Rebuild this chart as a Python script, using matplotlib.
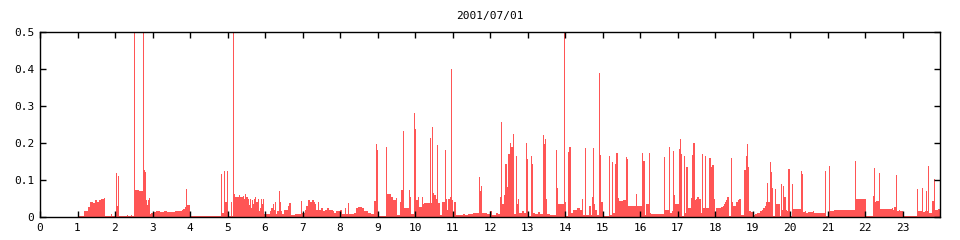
import matplotlib
matplotlib.use("Agg")
import matplotlib.pyplot as plt

# Niveau de fond : debut de chaque palier (heure) et sa valeur
base_hours = [
    0.0, 1.0, 1.17, 1.27, 1.32, 1.42, 1.47, 1.51, 1.58, 1.63, 1.70, 1.73, 1.88, 1.91,
    2.05, 2.08, 2.33, 2.35, 2.42, 2.44, 2.53, 2.62, 2.65, 2.70, 2.77, 2.79, 2.82, 2.84,
    2.87, 2.90, 2.93, 2.96, 3.0, 3.1, 3.2, 3.3, 3.38, 3.6, 3.78, 3.82, 3.86, 3.9, 3.93,
    4.0, 4.82, 4.86, 4.92, 4.98, 5.08, 5.11, 5.16, 5.2, 5.3, 5.33, 5.4, 5.45, 5.47,
    5.5, 5.55, 5.57, 5.6, 5.62, 5.65, 5.68, 5.7, 5.73, 5.75, 5.77, 5.8, 5.83, 5.87,
    5.89, 5.92, 5.95, 5.98, 6.13, 6.17, 6.2, 6.25, 6.27, 6.3, 6.33, 6.36, 6.4, 6.43,
    6.46, 6.5, 6.6, 6.62, 6.65, 6.7, 6.8, 6.97, 7.07, 7.1, 7.15, 7.2, 7.25, 7.3, 7.33,
    7.37, 7.4, 7.43, 7.47, 7.5, 7.55, 7.6, 7.65, 7.7, 7.8, 7.85, 7.9, 8.0, 8.05, 8.36,
    8.42, 8.48, 8.58, 8.64, 8.75, 8.82, 8.91, 9.01, 9.25, 9.35, 9.4, 9.5, 9.53, 9.6,
    9.63, 9.71, 9.83, 9.86, 9.9, 10.04, 10.07, 10.1, 10.18, 10.21, 10.25, 10.45, 10.5,
    10.55, 10.6, 10.67, 10.71, 10.81, 10.85, 10.89, 10.93, 10.99, 11.02, 11.05, 11.09,
    11.27, 11.33, 11.42, 11.55, 11.73, 11.75, 11.78, 11.91, 12.0, 12.05, 12.16, 12.2,
    12.27, 12.32, 12.37, 12.41, 12.44, 12.48, 12.52, 12.54, 12.56, 12.6, 12.63, 12.72,
    12.75, 12.77, 12.86, 12.9, 12.98, 13.01, 13.1, 13.12, 13.15, 13.2, 13.29, 13.33,
    13.4, 13.43, 13.46, 13.49, 13.53, 13.6, 13.76, 13.8, 13.98, 14.03, 14.08, 14.11,
    14.16, 14.22, 14.33, 14.4, 14.45, 14.48, 14.55, 14.65, 14.68, 14.71, 14.77, 14.8,
    14.85, 14.93, 14.96, 15.02, 15.1, 15.19, 15.26, 15.32, 15.34, 15.37, 15.42, 15.45,
    15.55, 15.6, 15.64, 15.68, 15.92, 16.04, 16.06, 16.08, 16.12, 16.16, 16.25, 16.28,
    16.67, 16.7, 16.8, 16.85, 16.91, 16.94, 17.03, 17.07, 17.1, 17.13, 17.19, 17.26,
    17.29, 17.36, 17.39, 17.42, 17.46, 17.49, 17.53, 17.56, 17.58, 17.62, 17.68, 17.74,
    17.83, 17.85, 17.89, 17.9, 17.93, 17.96, 18.0, 18.03, 18.17, 18.2, 18.24, 18.27,
    18.3, 18.33, 18.36, 18.45, 18.49, 18.56, 18.6, 18.62, 18.65, 18.68, 18.77, 18.83,
    18.86, 18.88, 18.91, 18.97, 19.0, 19.02, 19.07, 19.11, 19.2, 19.25, 19.29, 19.33,
    19.36, 19.41, 19.46, 19.49, 19.52, 19.55, 19.63, 19.72, 19.78, 19.8, 19.83, 19.85,
    19.88, 19.93, 19.95, 20.0, 20.06, 20.35, 20.4, 20.43, 20.49, 20.6, 20.64, 20.69,
    20.89, 20.93, 21.04, 21.17, 21.74, 21.76, 22.03, 22.2, 22.27, 22.3, 22.4, 22.71,
    22.74, 22.77, 22.84, 22.9, 22.93, 23.02, 23.4, 23.54, 23.6, 23.65, 23.69, 23.79,
    23.85, 23.91, 23.95,
]
base_vals = [
    0.0, 0.004, 0.016, 0.027, 0.041, 0.037, 0.045, 0.04, 0.045, 0.048, 0.051, 0.004, 0.007, 0.004,
    0.03, 0.004, 0.006, 0.004, 0.006, 0.004, 0.072, 0.074, 0.071, 0.069, 0.128, 0.122, 0.045, 0.033,
    0.045, 0.052, 0.007, 0.01, 0.014, 0.015, 0.013, 0.016, 0.014, 0.015, 0.018, 0.022, 0.026, 0.035, 0.032,
    0.004, 0.117, 0.012, 0.04, 0.004, 0.04, 0.004, 0.062, 0.055, 0.06, 0.054, 0.057, 0.05, 0.062,
    0.055, 0.05, 0.032, 0.05, 0.025, 0.045, 0.035, 0.05, 0.055, 0.063, 0.04, 0.05, 0.015, 0.025,
    0.05, 0.035, 0.05, 0.007, 0.015, 0.025, 0.035, 0.02, 0.04, 0.007, 0.015, 0.03, 0.04, 0.015,
    0.007, 0.02, 0.018, 0.03, 0.038, 0.005, 0.008, 0.012, 0.02, 0.03, 0.045, 0.04, 0.047, 0.04, 0.035,
    0.02, 0.04, 0.02, 0.018, 0.025, 0.015, 0.02, 0.025, 0.018, 0.015, 0.012, 0.015, 0.019, 0.008, 0.01,
    0.025, 0.028, 0.025, 0.016, 0.01, 0.008, 0.042, 0.002, 0.061, 0.055, 0.046, 0.052, 0.005, 0.04,
    0.073, 0.023, 0.073, 0.055, 0.008, 0.045, 0.055, 0.027, 0.055, 0.035, 0.038, 0.065, 0.06,
    0.05, 0.037, 0.005, 0.04, 0.05, 0.02, 0.05, 0.055, 0.045, 0.005, 0.04, 0.005,
    0.007, 0.005, 0.008, 0.01, 0.07, 0.085, 0.01, 0.008, 0.016, 0.005, 0.012, 0.008,
    0.054, 0.035, 0.06, 0.143, 0.08, 0.17, 0.176, 0.2, 0.19, 0.225, 0.008, 0.035,
    0.05, 0.012, 0.015, 0.01, 0.158, 0.002, 0.06, 0.143, 0.012, 0.007, 0.014, 0.008,
    0.221, 0.197, 0.21, 0.05, 0.007, 0.005, 0.078, 0.035, 0.04, 0.003, 0.175, 0.19,
    0.012, 0.02, 0.023, 0.02, 0.05, 0.005, 0.005, 0.03, 0.005, 0.054, 0.035, 0.02,
    0.005, 0.167, 0.04, 0.002, 0.003, 0.005, 0.01, 0.015, 0.143, 0.172, 0.052, 0.043,
    0.047, 0.045, 0.157, 0.03, 0.03, 0.003, 0.172, 0.151, 0.005, 0.035, 0.01, 0.007,
    0.019, 0.02, 0.012, 0.015, 0.06, 0.035, 0.184, 0.21, 0.17, 0.003, 0.012, 0.028,
    0.025, 0.052, 0.167, 0.2, 0.045, 0.05, 0.055, 0.003, 0.05, 0.01, 0.025, 0.024,
    0.172, 0.16, 0.006, 0.135, 0.14, 0.05, 0.008, 0.025, 0.028, 0.03, 0.034, 0.04,
    0.045, 0.055, 0.003, 0.04, 0.03, 0.04, 0.054, 0.045, 0.05, 0.005, 0.127, 0.165,
    0.197, 0.136, 0.017, 0.014, 0.016, 0.005, 0.007, 0.01, 0.015, 0.02, 0.025, 0.03,
    0.04, 0.04, 0.149, 0.122, 0.078, 0.003, 0.035, 0.003, 0.02, 0.084, 0.13, 0.054,
    0.02, 0.015, 0.13, 0.003, 0.022, 0.013, 0.015, 0.01, 0.013, 0.016, 0.012, 0.01,
    0.012, 0.004, 0.016, 0.019, 0.113, 0.049, 0.004, 0.057, 0.04, 0.043, 0.022, 0.025,
    0.02, 0.027, 0.016, 0.019, 0.016, 0.004, 0.016, 0.013, 0.015, 0.016, 0.011, 0.043,
    0.018, 0.02, 0.022,
]

# Pics isoles (heure, valeur)
spike_hours = [
    2.03, 2.09, 2.515, 2.755, 3.88, 4.9, 4.99, 5.155, 6.38, 6.95, 8.14, 8.22, 8.97, 8.99,
    9.23, 9.69, 9.98, 10.01, 10.41, 10.44, 10.58, 10.79, 10.97, 11.71, 12.3, 12.69, 12.96,
    13.08, 13.75, 13.96, 14.53, 14.75, 14.91, 15.17, 15.24, 15.63, 15.9, 16.23, 16.65,
    16.78, 16.89, 17.16, 17.24, 17.66, 17.72, 18.43, 19.39, 19.61, 19.75, 20.04, 20.3,
    20.33, 20.92, 21.03, 21.72, 22.25, 22.38, 22.82, 23.38, 23.52, 23.63, 23.67, 23.83,
]
spike_vals = [
    0.12, 0.11, 0.5, 0.5, 0.075, 0.124, 0.124, 0.5, 0.07, 0.042, 0.023, 0.037, 0.197, 0.18,
    0.19, 0.232, 0.282, 0.238, 0.214, 0.243, 0.194, 0.181, 0.4, 0.107, 0.256, 0.165, 0.2,
    0.165, 0.18, 0.5, 0.187, 0.187, 0.39, 0.165, 0.15, 0.162, 0.062, 0.172, 0.162,
    0.19, 0.178, 0.165, 0.135, 0.17, 0.165, 0.16, 0.092, 0.076, 0.09, 0.09, 0.125,
    0.117, 0.125, 0.138, 0.151, 0.132, 0.119, 0.113, 0.076, 0.078, 0.07, 0.138, 0.103,
]

x_ticks = list(range(24))
y_ticks = [0, 0.1, 0.2, 0.3, 0.4, 0.5]
y_labels = ["0", "0.1", "0.2", "0.3", "0.4", "0.5"]

rouge = "#ff5555"

fig = plt.figure(figsize=(9.6, 2.4), dpi=100)
ax = fig.add_axes([40 / 960, 23 / 240, 900 / 960, 185 / 240])

ax.stairs(base_vals, base_hours + [24], fill=True, color=rouge, linewidth=0,
          antialiased=False)
ax.bar(spike_hours, spike_vals, width=0.028, align="edge", color=rouge, linewidth=0,
       antialiased=False)

ax.set_xlim(0, 24)
ax.set_ylim(0, 0.5)
ax.set_xticks(x_ticks)
ax.set_yticks(y_ticks)
ax.set_yticklabels(y_labels)
ax.tick_params(direction="in", length=4, width=1, top=True, right=True,
               labelsize=8, pad=4, colors="black")
for lab in ax.get_xticklabels() + ax.get_yticklabels():
    lab.set_family("DejaVu Sans Mono")
for s in ax.spines.values():
    s.set_linewidth(1)

ax.set_title("2001/07/01", fontsize=8, family="DejaVu Sans Mono", pad=9)

plt.savefig("out.png", dpi=100)
